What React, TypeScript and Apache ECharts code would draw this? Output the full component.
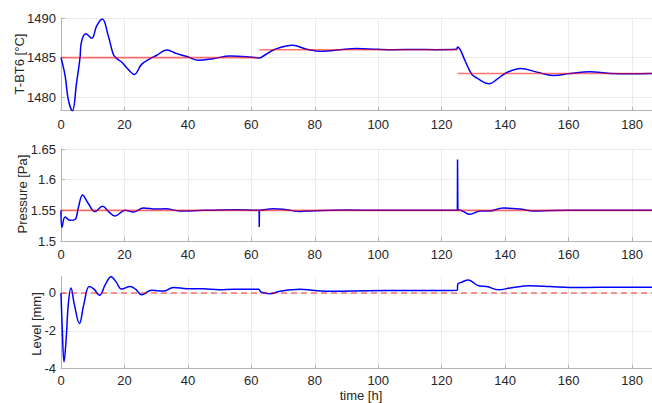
import React, { useEffect, useRef } from 'react';
import * as echarts from 'echarts';

// ---- data ----
const xMax = 186.3;
const xTicks = [0, 20, 40, 60, 80, 100, 120, 140, 160, 180];
const tempTicks = [1480, 1485, 1490];
const pressureTicks = [1.5, 1.55, 1.6, 1.65];
const levelTicks = [-4, -2, 0];

const tempBlue: [number, number][] = [
  [0, 1485], [1.3, 1482.7], [2.3, 1479.7], [3.6, 1478.3], [4.9, 1481.8], [6, 1485], [6.4, 1486.9],
  [7.9, 1488.0], [9.7, 1487.45], [11.25, 1489.0], [13, 1489.87], [14.9, 1487.75], [16.5, 1485.4],
  [17.6, 1484.87], [19.1, 1484.44], [21, 1483.6], [23.1, 1482.88], [25.4, 1484.15], [28.1, 1484.87],
  [30.2, 1485.3], [33.3, 1485.97], [36.5, 1485.5], [40.1, 1485.08], [43.3, 1484.66], [48, 1484.87],
  [53.3, 1485.2], [58.5, 1485.12], [62.5, 1484.95], [63.8, 1485.2], [67.5, 1486.05], [73, 1486.56],
  [77.5, 1486.05], [82.7, 1485.8], [88, 1486.0], [93.2, 1486.14], [99.5, 1486.05], [105, 1486.0],
  [112, 1486.03], [118, 1486.0], [124.7, 1486.05], [125, 1486.35], [125.8, 1486.05], [127.4, 1484.57],
  [129.5, 1482.88], [131, 1482.45], [135, 1481.7], [137.4, 1482.24], [140, 1483.0], [144.9, 1483.64],
  [150, 1483.17], [155.2, 1482.75], [160.5, 1483.0], [166.8, 1483.22], [173, 1483.0], [179.4, 1482.97],
  [186.3, 1483.0],
];
const tempSet1: [number, number][] = [[0, 1485], [62.2, 1485]];
const tempSet2: [number, number][] = [[62.5, 1486], [125, 1486]];
const tempSet3: [number, number][] = [[125, 1483], [186.3, 1483]];

const pressureBlue: [number, number][] = [
  [0, 1.55], [0.3, 1.522], [1.3, 1.539], [2.8, 1.5337], [4.4, 1.535], [5.5, 1.555], [6.8, 1.575],
  [8.5, 1.562], [10.7, 1.548], [13.1, 1.5565], [15, 1.548], [17, 1.5408], [20.2, 1.55], [22.8, 1.5473],
  [26, 1.5538], [30, 1.552], [33, 1.5525], [37.5, 1.549], [45, 1.55], [55, 1.5508], [62.4, 1.55],
  [66.9, 1.5527], [71, 1.551], [75.3, 1.548], [80, 1.5495], [90, 1.5505], [100, 1.55], [124.9, 1.55],
  [125.2, 1.551], [126.5, 1.549], [128.9, 1.5435], [132.1, 1.549], [135, 1.549], [139.4, 1.5538],
  [144.6, 1.552], [149, 1.549], [155, 1.5497], [165, 1.55], [186.3, 1.55],
];
const pressureSpike1: [number, number][] = [[62.45, 1.55], [62.5, 1.5228], [62.55, 1.55]];
const pressureSpike2: [number, number][] = [[124.95, 1.55], [125, 1.633], [125.1, 1.551]];
const pressureSet: [number, number][] = [[0, 1.55], [186.3, 1.55]];

const levelBlue: [number, number][] = [
  [0, 0], [0.4, -1.9], [0.95, -3.64], [1.6, -2.5], [2.3, -0.6], [3.15, 0.26], [4.2, -0.6], [5.8, -1.61],
  [7.2, -0.6], [8.9, 0.34], [10.4, 0.2], [12.1, -0.12], [14, 0.45], [15.8, 0.86], [17.3, 0.6],
  [19.1, 0.21], [21.8, 0.34], [23.5, 0.2], [25.4, -0.09], [28.6, 0.14], [32.3, 0.1], [35.4, 0.29],
  [39.6, 0.23], [44.9, 0.22], [50, 0.17], [54.3, 0.2], [62.3, 0.2], [63, 0.05], [65.9, -0.04],
  [69, 0.09], [75.3, 0.2], [80, 0.13], [85.8, 0.09], [96.3, 0.12], [110, 0.13], [124.9, 0.15],
  [125.1, 0.47], [126.3, 0.57], [128.4, 0.69], [131.6, 0.38], [134.2, 0.34], [137.9, 0.17],
  [141.6, 0.26], [147.9, 0.38], [154.2, 0.34], [160.5, 0.29], [170, 0.3], [186.3, 0.3],
];
const levelSet: [number, number][] = [[0, 0], [186.3, 0]];

const yNames = ['T-BT6 [°C]', 'Pressure [Pa]', 'Level [mm]'];
const xName = 'time [h]';

// ---- styling ----
const FONT = '"Liberation Sans", Arial, Helvetica, sans-serif';
const TEXT = '#262626';
const AXIS = '#b4b4b4';
const GRID = '#ebebeb';

const grids = [
  { left: 61, right: 0, top: 18, height: 92.7 },
  { left: 61, right: 0, top: 149, height: 92 },
  { left: 61, right: 0, top: 276.7, height: 92 },
];
const xLabelMargins = [7, 7, 5];

const yCfg = [
  { min: 1478.3, max: 1490, ticks: tempTicks },
  { min: 1.5, max: 1.65, ticks: pressureTicks },
  { min: -4, max: 0.86, ticks: levelTicks },
];

function blue(data: [number, number][], i: number, smooth: number | false) {
  return {
    type: 'line', xAxisIndex: i, yAxisIndex: i, data, symbol: 'none', showSymbol: false,
    smooth, silent: true, z: 2,
    lineStyle: { color: '#0000ff', width: 1.5 },
  };
}
function red(data: [number, number][], i: number, dashed = false) {
  return {
    type: 'line', xAxisIndex: i, yAxisIndex: i, data, symbol: 'none', showSymbol: false,
    silent: true, z: 3,
    lineStyle: { color: 'rgba(255,0,0,0.55)', width: 1.6, type: dashed ? [6, 4] : 'solid' },
  };
}

const fmt = (v: number) => String(Math.round(v * 1000) / 1000);

export default function App() {
  const ref = useRef<HTMLDivElement>(null);
  useEffect(() => {
    const chart = echarts.init(ref.current!, null, { renderer: 'svg' });
    const option: any = {
      animation: false,
      grid: grids,
      xAxis: [0, 1, 2].map((i) => ({
        gridIndex: i, type: 'value', min: 0, max: xMax,
        axisLine: { show: true, onZero: false, lineStyle: { color: AXIS, width: 1 } },
        axisTick: { show: true, inside: true, length: 4, customValues: xTicks, lineStyle: { color: AXIS } },
        axisLabel: { customValues: xTicks, formatter: fmt, color: TEXT, fontSize: 13, fontFamily: FONT, margin: xLabelMargins[i] },
        splitLine: { show: true, lineStyle: { color: GRID, width: 1 } },
      })),
      yAxis: yCfg.map((c, i) => ({
        gridIndex: i, type: 'value', min: c.min, max: c.max,
        axisLine: { show: true, onZero: false, lineStyle: { color: AXIS, width: 1 } },
        axisTick: { show: true, inside: true, length: 4, customValues: c.ticks, lineStyle: { color: AXIS } },
        axisLabel: { customValues: c.ticks, formatter: fmt, color: TEXT, fontSize: 13, fontFamily: FONT, margin: 5 },
        splitLine: { show: true, lineStyle: { color: GRID, width: 1 } },
      })),
      series: [
        blue(tempBlue, 0, 0.4),
        red(tempSet1, 0), red(tempSet2, 0), red(tempSet3, 0),
        blue(pressureBlue, 1, 0.4),
        blue(pressureSpike1, 1, false), blue(pressureSpike2, 1, false),
        red(pressureSet, 1),
        blue(levelBlue, 2, 0.4),
        red(levelSet, 2, true),
      ],
      graphic: [
        { type: 'text', x: 19, y: 64, rotation: Math.PI / 2,
          style: { text: yNames[0], fill: TEXT, font: `13px ${FONT}`, align: 'center', verticalAlign: 'middle' } },
        { type: 'text', x: 22.5, y: 194, rotation: Math.PI / 2,
          style: { text: yNames[1], fill: TEXT, font: `13px ${FONT}`, align: 'center', verticalAlign: 'middle' } },
        { type: 'text', x: 36.5, y: 324, rotation: Math.PI / 2,
          style: { text: yNames[2], fill: TEXT, font: `13px ${FONT}`, align: 'center', verticalAlign: 'middle' } },
        { type: 'text', x: 361, y: 395.5,
          style: { text: xName, fill: TEXT, font: `13px ${FONT}`, align: 'center', verticalAlign: 'middle' } },
      ],
    };
    chart.setOption(option);
    return () => chart.dispose();
  }, []);
  return <div ref={ref} style={{ position: 'fixed', left: 0, top: 0, width: 652, height: 403, background: '#fff' }} />;
}
